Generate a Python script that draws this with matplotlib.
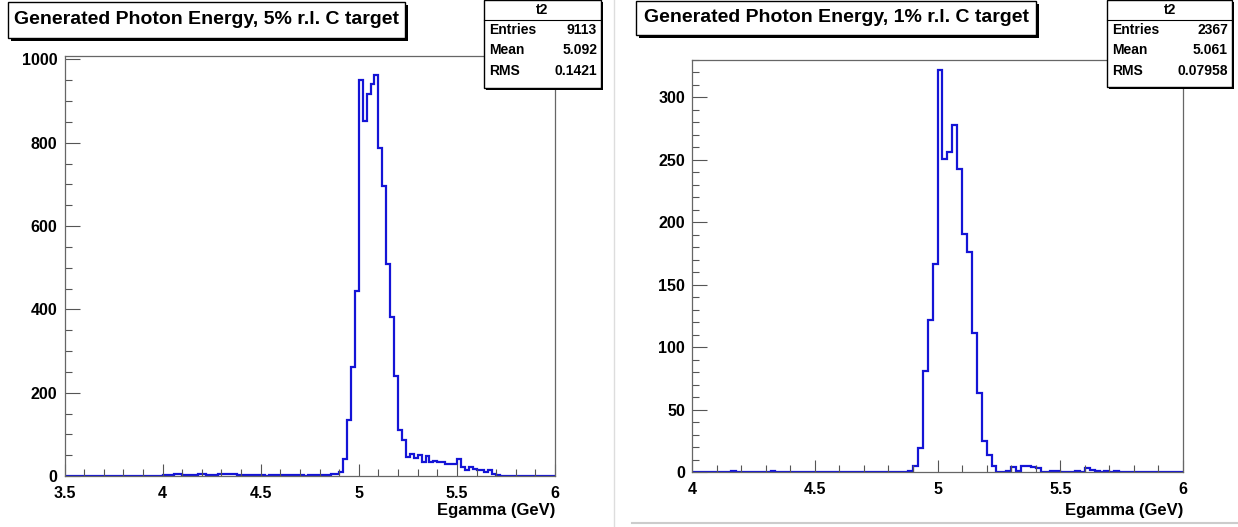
import numpy as np
import matplotlib.pyplot as plt
from matplotlib import font_manager
from matplotlib.patches import Rectangle
from matplotlib.lines import Line2D
from matplotlib.ticker import MultipleLocator

avail = {f.name for f in font_manager.fontManager.ttflist}
fam = 'Liberation Sans Narrow' if 'Liberation Sans Narrow' in avail else 'Liberation Sans'
plt.rcParams['font.family'] = fam
plt.rcParams['font.weight'] = 'bold'

W, H = 1238, 527

# 5% r.l. target: 125 bins of 0.02 GeV from 3.5 to 6
counts_5 = ([0] * 25 +
            [3, 3, 3, 4, 5, 3, 3, 3, 3, 4, 4, 3, 3, 3, 4, 5, 5, 4, 4, 3,
             3, 3, 3, 3, 2, 2, 1, 3, 3, 3, 3, 3, 3, 3, 2, 2, 1, 3, 3, 3,
             3, 3, 3, 4] +
            [4, 10, 42, 135, 262, 445, 950, 851, 918, 942, 962, 787, 696, 509,
             382, 239, 111, 87, 45, 54, 44, 50, 34, 48, 34, 36, 34, 33, 30, 30,
             30, 42, 22, 14, 22, 18, 14, 14, 10, 14, 6, 3, 1] +
            [0] * 13)
range_5 = (3.5, 6.0)

# 1% r.l. target: 100 bins of 0.02 GeV from 4 to 6
counts_1 = ([0, 0, 0, 0, 0, 0, 0, 0, 1, 0, 0, 0, 0, 0, 0, 0, 1, 0, 0, 0,
             0, 0, 0, 0, 0, 0, 0, 0, 0, 0, 0, 0, 0, 0, 0, 0, 0, 0, 0, 0,
             0, 0, 0, 0] +
            [1, 5, 19, 81, 122, 167, 322, 251, 256, 278, 243, 191, 176, 111,
             63, 25, 14, 5, 0, 0, 1, 4, 1, 5, 5, 4, 3, 0, 0, 1,
             1, 0, 0, 0, 1, 0, 3, 2, 1, 0, 1, 0, 1] +
            [0] * 13)
range_1 = (4.0, 6.0)

titles = ['Generated Photon Energy, 5% r.l. C target',
          'Generated Photon Energy, 1% r.l. C target']
stats = [('9113', '5.092', '0.1421'), ('2367', '5.061', '0.07958')]


def fx(x):
    return x / W


def fy(y):
    return 1 - y / H


def box(fig, x0, y0, x1, y1, shadow=3):
    # ROOT style pave with a drop shadow
    fig.add_artist(Rectangle((fx(x0 + shadow), fy(y1 + shadow)), fx(x1 - x0), (y1 - y0) / H,
                             transform=fig.transFigure, facecolor='black', edgecolor='none', zorder=4))
    fig.add_artist(Rectangle((fx(x0), fy(y1)), fx(x1 - x0), (y1 - y0) / H,
                             transform=fig.transFigure, facecolor='white', edgecolor='black',
                             linewidth=1.0, zorder=5))


fig = plt.figure(figsize=(W / 100, H / 100), dpi=100)

panels = [
    dict(counts=counts_5, rng=range_5, ylim=1008, ymaj=200, ymin=50, xmaj=0.5,
         px=(64.5, 555, 56, 476), title_box=(8, 2, 405, 38), stat_box=(484, 0, 601, 88)),
    dict(counts=counts_1, rng=range_1, ylim=330, ymaj=50, ymin=10, xmaj=0.5,
         px=(692, 1183, 60, 472), title_box=(636, 1, 1036, 35), stat_box=(1107, 0, 1232, 87)),
]

for i, p in enumerate(panels):
    x0, x1, y0, y1 = p['px']
    ax = fig.add_axes([fx(x0), fy(y1), fx(x1 - x0), (y1 - y0) / H])
    counts = np.array(p['counts'])
    edges = np.linspace(p['rng'][0], p['rng'][1], len(counts) + 1)
    ax.stairs(counts, edges, color='#1414d6', linewidth=1.6)
    ax.set_xlim(*p['rng'])
    ax.set_ylim(0, p['ylim'])
    ax.xaxis.set_major_locator(MultipleLocator(p['xmaj']))
    ax.xaxis.set_minor_locator(MultipleLocator(0.1))
    ax.yaxis.set_major_locator(MultipleLocator(p['ymaj']))
    ax.yaxis.set_minor_locator(MultipleLocator(p['ymin']))
    ax.xaxis.set_major_formatter(plt.FuncFormatter(lambda v, pos: f'{v:g}'))
    ax.tick_params(which='both', direction='in', color='#555555', width=0.8)
    ax.tick_params(axis='y', which='major', length=11, pad=5, labelsize=11.5)
    ax.tick_params(axis='y', which='minor', length=5)
    ax.tick_params(axis='x', which='major', length=9, pad=7, labelsize=11.5)
    ax.tick_params(axis='x', which='minor', length=5)
    for s in ax.spines.values():
        s.set_color('#666666')
        s.set_linewidth(0.9)

    fig.text(fx(x1), fy(511), 'Egamma (GeV)', ha='right', va='center', fontsize=12)

    tb = p['title_box']
    box(fig, *tb)
    fig.text(fx((tb[0] + tb[2]) / 2), fy((tb[1] + tb[3]) / 2 - 1), titles[i],
             ha='center', va='center', fontsize=14, zorder=6)

    sb = p['stat_box']
    box(fig, *sb, shadow=2)
    fig.add_artist(Line2D([fx(sb[0]), fx(sb[2])], [fy(20), fy(20)], transform=fig.transFigure,
                          color='black', linewidth=0.8, zorder=6))
    fig.text(fx((sb[0] + sb[2]) / 2), fy(10), 't2', ha='center', va='center', fontsize=10, zorder=6)
    for lab, val, yy in zip(['Entries', 'Mean', 'RMS'], stats[i], [30, 50, 71]):
        fig.text(fx(sb[0] + 5), fy(yy), lab, ha='left', va='center', fontsize=10, zorder=6)
        fig.text(fx(sb[2] - 4), fy(yy), val, ha='right', va='center', fontsize=10, zorder=6)

# canvas edges of the second pad
fig.add_artist(Line2D([fx(614), fx(614)], [0, 1], transform=fig.transFigure, color='#dddddd', linewidth=1))
fig.add_artist(Line2D([fx(632), 1], [fy(523), fy(523)], transform=fig.transFigure, color='#cccccc', linewidth=1.5))

fig.savefig('out.png', dpi=100)
